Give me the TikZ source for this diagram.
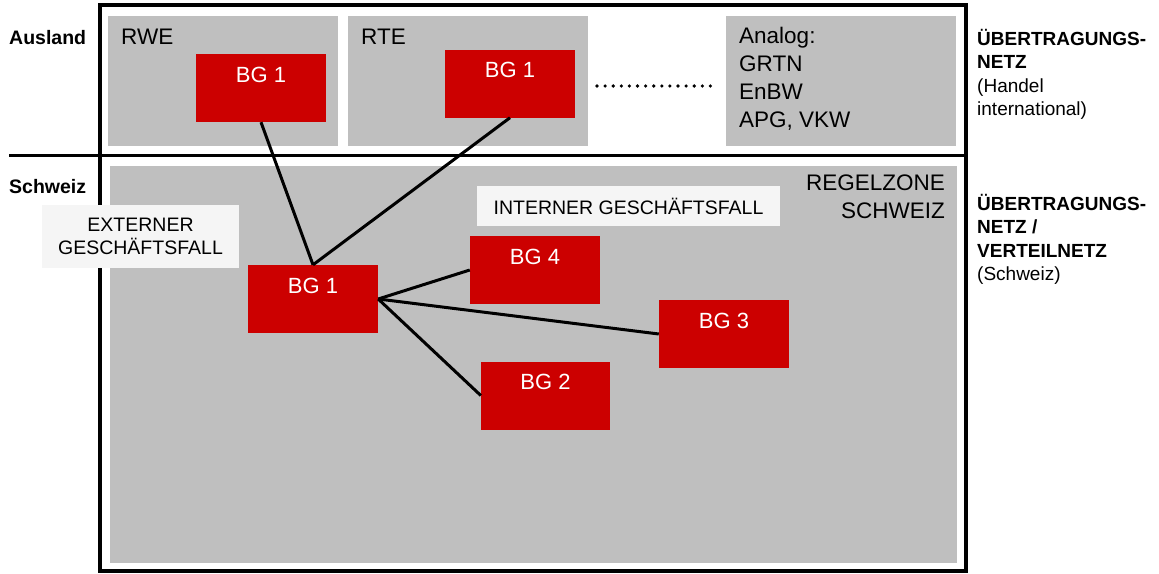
\documentclass[tikz,border=0pt]{standalone}
\usepackage{fontspec}
\setmainfont{Liberation Sans}
\definecolor{bgred}{HTML}{CC0000}
\definecolor{zonegray}{HTML}{BFBFBF}
\definecolor{lightbox}{HTML}{F5F5F5}
\begin{document}
\begin{tikzpicture}[x=1pt,y=-1pt,
  redbox/.style={fill=bgred, text=white, minimum width=130pt, inner xsep=0pt, inner ysep=0pt,
     text height=28pt, text depth=40pt, font=\fontsize{22}{26}\selectfont, anchor=center},
  conn/.style={line width=3pt},
  frame/.style={line width=3.5pt},
  plain/.style={font=\fontsize{22.5}{28}\selectfont, inner sep=0pt, align=left},
  sidelbl/.style={inner sep=0pt, align=left, anchor=north west, font=\fontsize{19}{23.3}\selectfont},
  casebox/.style={fill=lightbox, font=\fontsize{19.5}{23}\selectfont, align=center, inner sep=0pt}]
\useasboundingbox (0,0) rectangle (1159,573);
% gray zones
\fill[zonegray] (108,16) rectangle (338,146);
\fill[zonegray] (348,16) rectangle (588,146);
\fill[zonegray] (726,16) rectangle (956,146);
\fill[zonegray] (110,166) rectangle (957,563);
% frame
\draw[frame] (100,5) -- (966,5) -- (966,571) -- (100,571) -- cycle;
\draw[frame] (9,155.5) -- (966,155.5);
% region labels
\node[anchor=west, inner sep=0pt, font=\bfseries\fontsize{19.5}{23}\selectfont] (ausland) at (9,38) {Ausland};
\node[anchor=west, inner sep=0pt, font=\bfseries\fontsize{19.5}{23}\selectfont] (schweiz) at (9,187) {Schweiz};
% TSO names
\node[plain, anchor=west] (rwe) at (121,37) {RWE};
\node[plain, anchor=west] (rte) at (361,37) {RTE};
\node[plain, anchor=north west] (analog) at (739,27) {Analog:\\GRTN\\EnBW\\APG, VKW};
\node[plain, anchor=north east, align=right] (regel) at (945,175) {REGELZONE\\SCHWEIZ};
% side labels
\node[sidelbl] (lblA) at (977,29) {\textbf{ÜBERTRAGUNGS-}\\\textbf{NETZ}\\(Handel\\international)};
\node[sidelbl] (lblB) at (977,194) {\textbf{ÜBERTRAGUNGS-}\\\textbf{NETZ /}\\\textbf{VERTEILNETZ}\\(Schweiz)};
% case boxes
\node[casebox, minimum width=197pt, minimum height=63pt] (extern) at (140.5,236.5) {EXTERNER\\GESCHÄFTSFALL};
\node[casebox, minimum width=303pt, minimum height=40pt] (intern) at (628.5,206) {INTERNER GESCHÄFTSFALL};
% red boxes
\node[redbox] (rwebg) at (261,88) {BG 1};
\node[redbox] (rtebg) at (510,83.5) {BG 1};
\node[redbox] (chbg1) at (313,299) {BG 1};
\node[redbox] (bg4) at (535,270) {BG 4};
\node[redbox] (bg3) at (724,334) {BG 3};
\node[redbox, minimum width=129pt] (bg2) at (545.5,395.5) {BG 2};
% dots
\coordinate (dotsA) at (597,86);
\coordinate (dotsB) at (711,86);
\draw[line width=3.6pt, line cap=round, dash pattern=on 0pt off 8.1pt] (dotsA) -- (dotsB);
% connectors
\draw[conn] (rwebg.south) -- (chbg1.north);
\draw[conn] (rtebg.south) -- (chbg1.north);
\draw[conn] (chbg1.east) -- (bg4.west);
\draw[conn] (chbg1.east) -- (bg3.west);
\draw[conn] (chbg1.east) -- (bg2.west);
\end{tikzpicture}
\end{document}
